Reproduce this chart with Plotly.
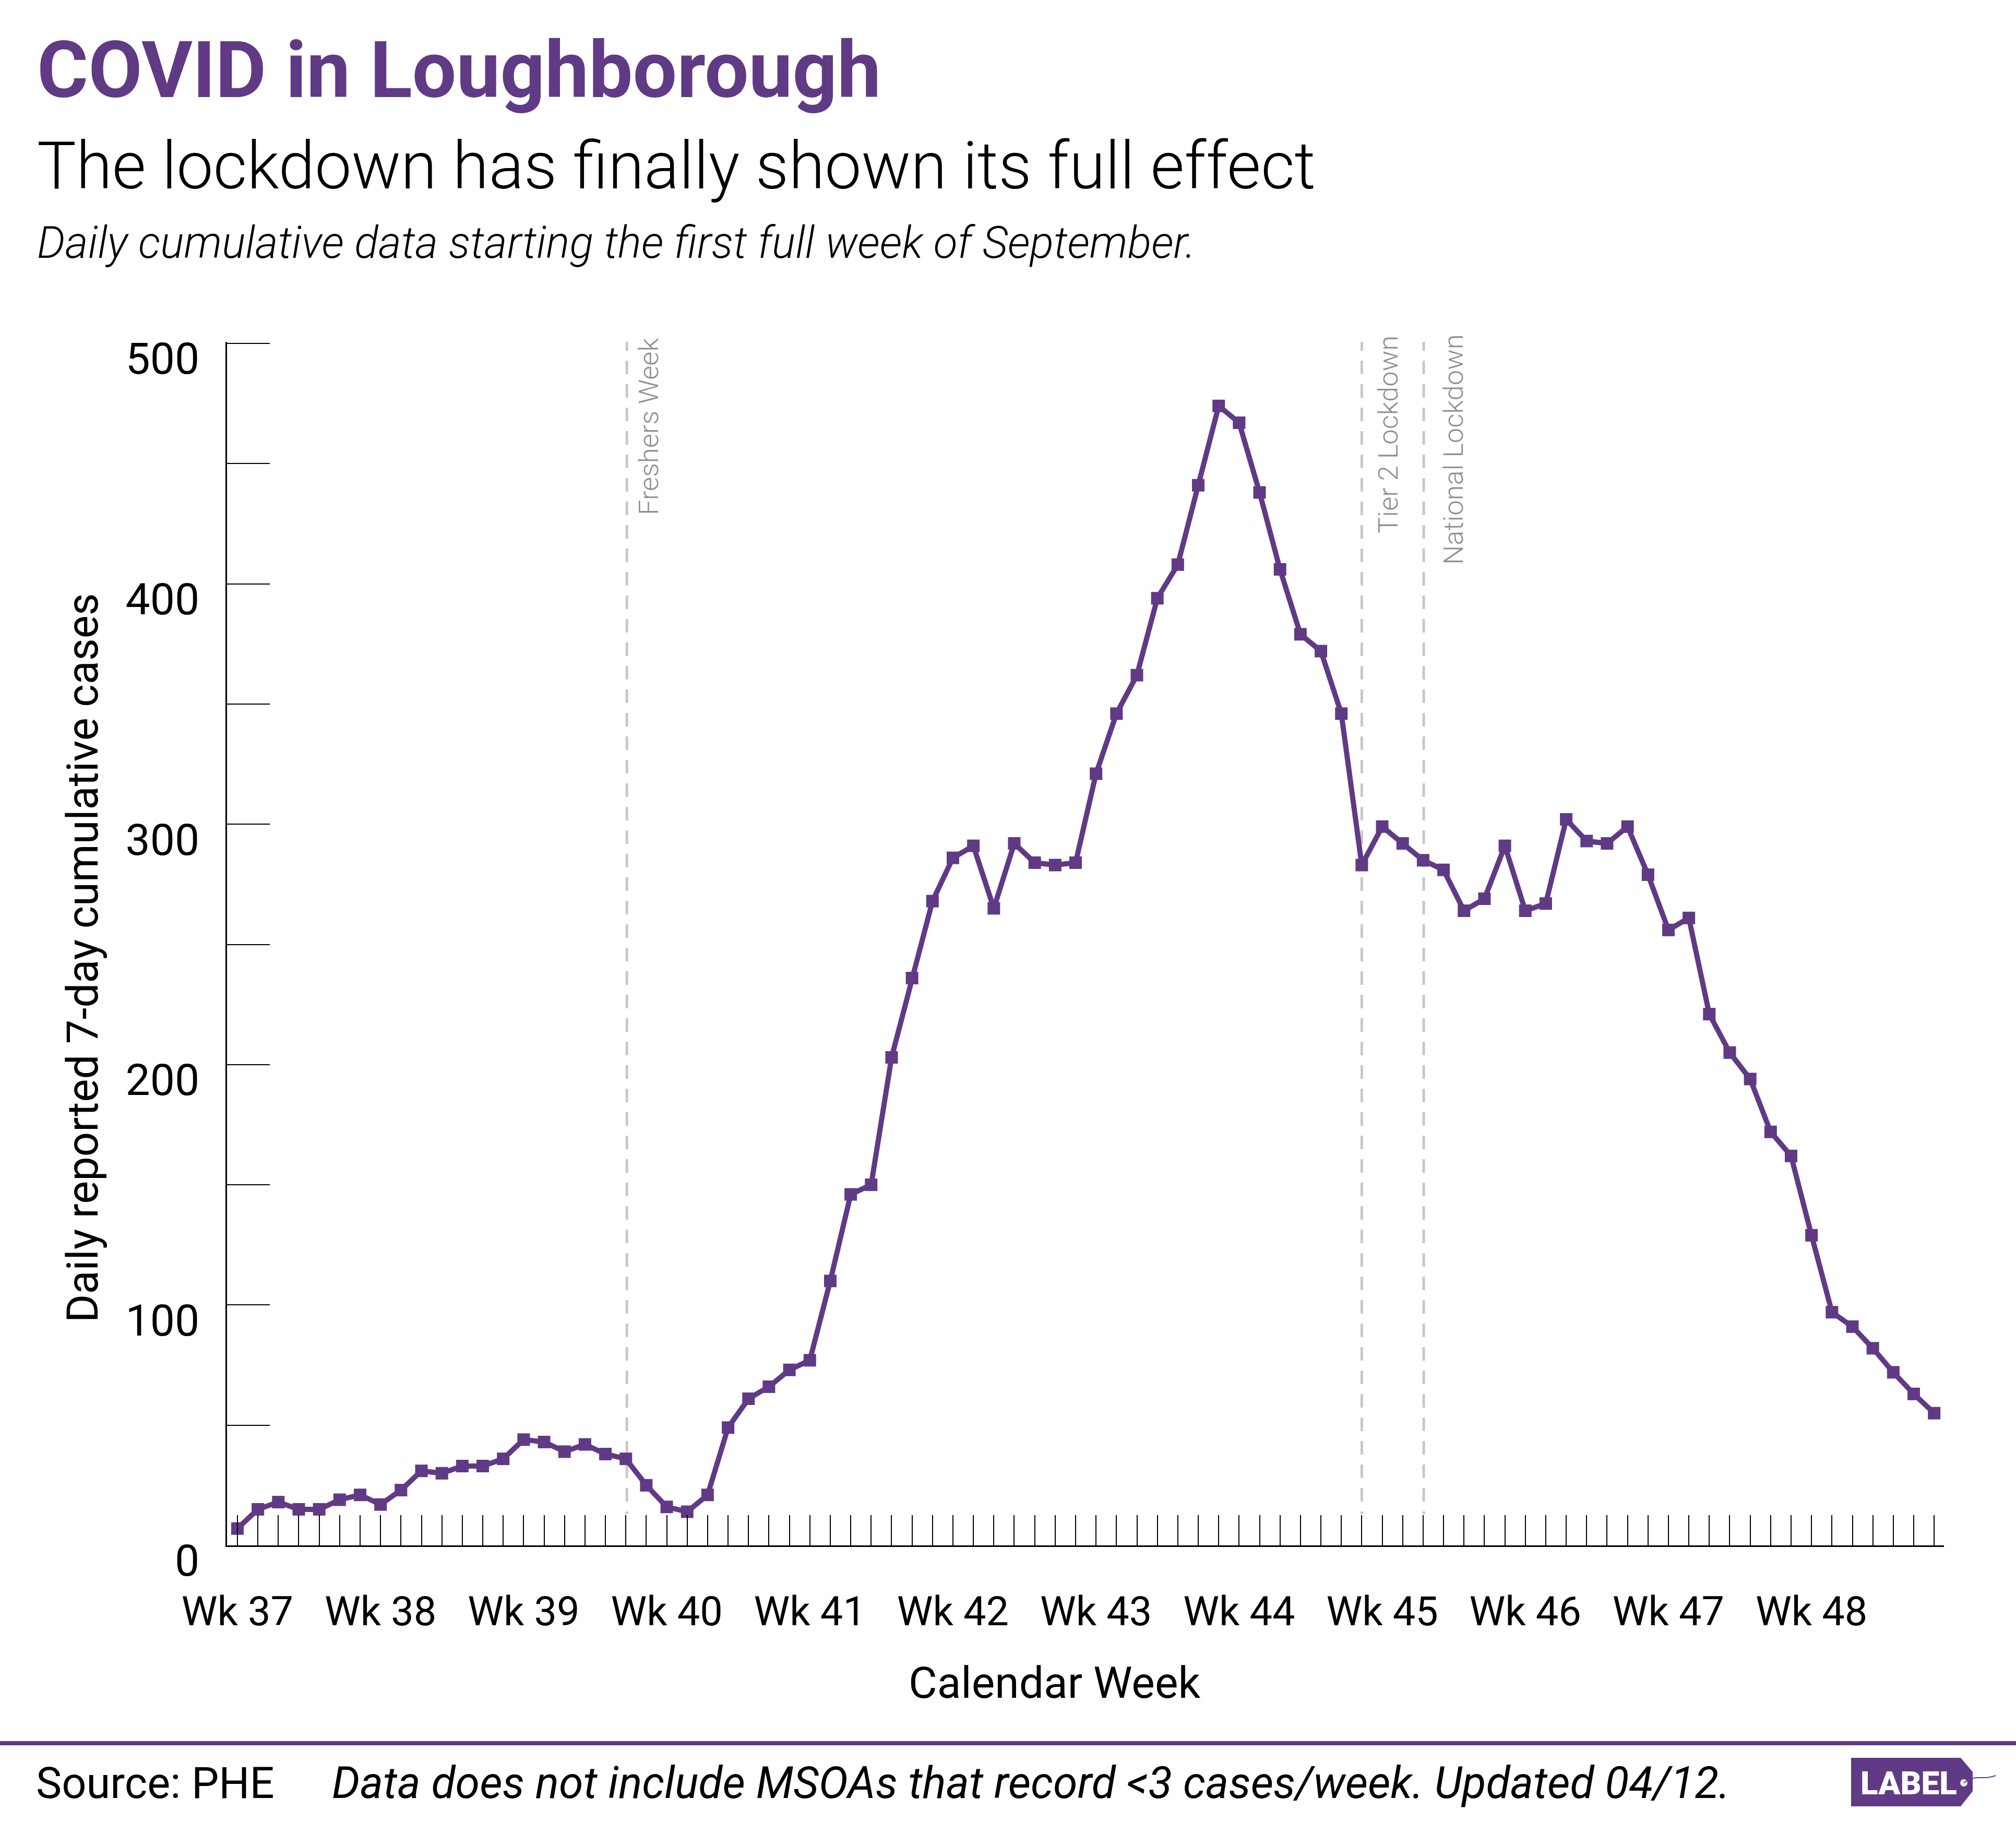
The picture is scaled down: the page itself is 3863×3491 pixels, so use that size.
import plotly.graph_objects as go

day_index = list(range(84))
cases = [7,15,18,15,15,19,21,17,23,31,30,33,33,36,44,43,39,42,38,36,25,16,14,21,49,61,66,73,77,110,
         146,150,203,236,268,286,291,265,292,284,283,284,321,346,362,394,408,441,474,467,438,406,379,372,346,283,
         299,292,285,281,264,269,291,264,267,302,293,292,299,279,256,261,221,205,194,172,162,129,97,91,82,72,63,55]
week_labels = ["Wk 37","Wk 38","Wk 39","Wk 40","Wk 41","Wk 42","Wk 43","Wk 44","Wk 45","Wk 46","Wk 47","Wk 48"]
y_label_values = [0,100,200,300,400,500]
y_tick_values = [0,50,100,150,200,250,300,350,400,450,500]
event_names = ["Freshers Week","Tier 2 Lockdown","National Lockdown"]
event_positions = [19.05,55.0,58.03]

W,H = 3863,3491
L,R,T,B = 435,3725,655,2961
PURPLE = "#603a85"
def px(x): return (x-L)/(R-L)
def py(y): return (B-y)/(B-T)

x_ticktext = [week_labels[i//7] if i%7==0 else "" for i in day_index]
y_ticktext = [str(v) if v in y_label_values else "" for v in y_tick_values]

fig = go.Figure()
for pos in event_positions:
    fig.add_trace(go.Scatter(x=[pos,pos],y=[502.6,13],mode="lines",cliponaxis=False,hoverinfo="skip",
                             line=dict(color="#c8c8c8",width=5,dash="26px,19px"),showlegend=False))
fig.add_trace(go.Scatter(x=day_index,y=cases,mode="lines+markers",cliponaxis=False,showlegend=False,
                         line=dict(color=PURPLE,width=10),
                         marker=dict(symbol="square",size=24,color=PURPLE)))

def text(s,x,y,size,color="#000000",weight=400,style="normal",xanchor="left",yanchor="middle",angle=0):
    fig.add_annotation(text=s,x=px(x),y=py(y),xref="paper",yref="paper",showarrow=False,xanchor=xanchor,yanchor=yanchor,
                       textangle=angle,borderpad=0,
                       font=dict(family="Roboto",size=size,color=color,weight=weight,style=style))

text("COVID in Loughborough",70,135,150,color=PURPLE,weight=700)
text("The lockdown has finally shown its full effect",70,318,125.4,weight=300)
text("Daily cumulative data starting the first full week of September.",70,465,84.6,weight=300,style="italic")
text("Daily reported 7-day cumulative cases",158,1835,83,xanchor="center",angle=-90)
text("Calendar Week",2020,3225,84,xanchor="center")
text("Source: PHE",68,3416,83)
text("Data does not include MSOAs that record <3 cases/week. Updated 04/12.",635,3416,84.45,style="italic")
text(event_names[0],1243,818,52.5,color="#8f8f8f",weight=300,xanchor="center",angle=-90)
text(event_names[1],2660,833,52.5,color="#8f8f8f",weight=300,xanchor="center",angle=-90)
text(event_names[2],2785,861,52.5,color="#8f8f8f",weight=300,xanchor="center",angle=-90)
text("LABEL",3657,3416,62,color="#ffffff",weight=900,xanchor="center")

def poly(pts):
    return "M"+" L".join(f"{px(a):.5f},{py(b):.5f}" for a,b in pts)+" Z"
fig.add_shape(type="line",xref="paper",yref="paper",x0=px(0),x1=px(W),y0=py(3340),y1=py(3340),
              line=dict(color=PURPLE,width=8))
fig.add_shape(type="path",xref="paper",yref="paper",layer="below",line=dict(width=0),fillcolor=PURPLE,
              path=poly([(3547,3368),(3757,3368),(3780,3395),(3780,3432),(3757,3461),(3547,3461)]))
fig.add_shape(type="circle",xref="paper",yref="paper",line=dict(width=0),fillcolor="#ececec",
              x0=px(3756),x1=px(3770),y0=py(3423),y1=py(3409))
fig.add_shape(type="path",xref="paper",yref="paper",line=dict(color=PURPLE,width=2),
              path=f"M{px(3763):.5f},{py(3416):.5f} C{px(3785):.5f},{py(3398):.5f} {px(3800):.5f},{py(3412):.5f} {px(3824):.5f},{py(3402):.5f}")

fig.update_layout(width=W,height=H,autosize=False,plot_bgcolor="white",paper_bgcolor="white",
    margin=dict(l=L,r=W-R,t=T,b=H-B,pad=0),
    font=dict(family="Roboto",color="#000000",size=76),
    xaxis=dict(range=[-0.51,83.48],tickmode="array",tickvals=day_index,ticktext=x_ticktext,tickangle=0,
               ticks="inside",ticklen=58,tickwidth=2,tickcolor="#000000",showgrid=False,zeroline=False,
               showline=True,linecolor="#000000",linewidth=3,ticklabelstandoff=57,tickfont=dict(size=77.5)),
    yaxis=dict(range=[0,500.65],tickmode="array",tickvals=y_tick_values,ticktext=y_ticktext,
               ticks="inside",ticklen=82,tickwidth=2,tickcolor="#000000",showgrid=False,zeroline=False,
               showline=True,linecolor="#000000",linewidth=3,ticklabelstandoff=33,ticklabelshift=29,tickfont=dict(size=84)))

fig.write_html("out.html",config=dict(displayModeBar=False),post_script="document.body.style.margin='0';")
